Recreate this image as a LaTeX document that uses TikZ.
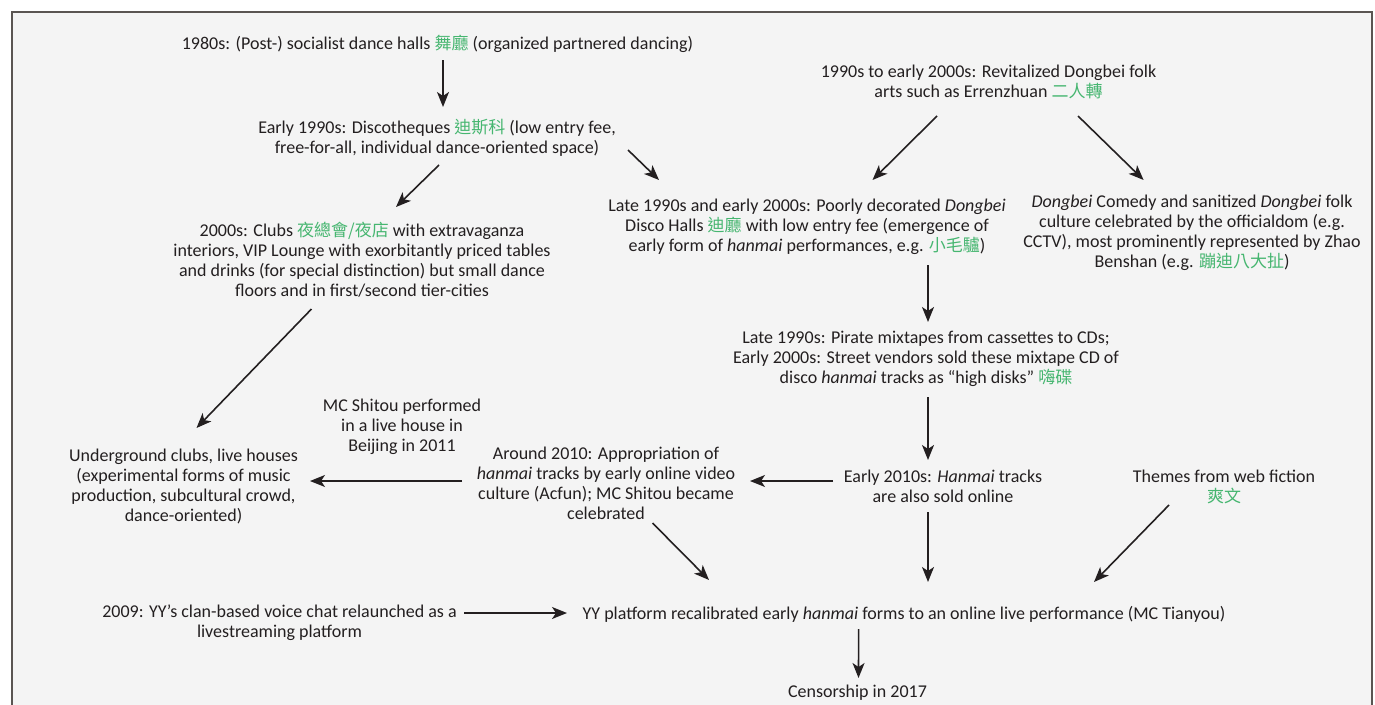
\documentclass[tikz,border=0pt]{standalone}
\usepackage{fontspec}
\setmainfont{Carlito}
\newfontfamily\cjk{Noto Sans CJK TC}
\usetikzlibrary{arrows.meta,calc}
\definecolor{bgc}{RGB}{244,244,244}
\definecolor{framec}{RGB}{90,85,82}
\definecolor{txt}{RGB}{35,31,32}
\definecolor{zhg}{RGB}{70,182,112}
\newcommand{\zh}[1]{{\cjk\color{zhg}\fontsize{17}{20}\selectfont #1}}
\begin{document}
\begin{tikzpicture}[x=1pt,y=-1pt,
  lbl/.style={align=center,text=txt,inner sep=0pt,font=\fontsize{18}{20}\selectfont},
  arr/.style={draw=txt,line width=1.6pt,-{Stealth[length=15pt,width=12pt,inset=4pt]}}]
\useasboundingbox (0,0) rectangle (1375,704);
\fill[white] (0,0) rectangle (1375,704);
\path[fill=bgc] (12,12) rectangle (1372,710);
\draw[framec,line width=2pt] (12,710) -- (12,12) -- (1372,12) -- (1372,710);

\node[lbl] (n1980) at (437.5,44) {1980s: (Post-) socialist dance halls \zh{舞廳} (organized partnered dancing)};
\node[lbl] (n1990) at (437,138) {Early 1990s: Discotheques \zh{迪斯科} (low entry fee,\\free-for-all, individual dance-oriented space)};
\node[lbl] (n2000) at (362,260) {2000s: Clubs \zh{夜總會/夜店} with extravaganza\\interiors, VIP Lounge with exorbitantly priced tables\\and drinks (for special distinction) but small dance\\floors and in first/second tier-cities};
\node[lbl] (nfolk) at (988.5,82) {1990s to early 2000s: Revitalized Dongbei folk\\arts such as Errenzhuan \zh{二人轉}};
\node[lbl] (ndisco) at (807,227) {Late 1990s and early 2000s: Poorly decorated \textit{Dongbei}\\Disco Halls \zh{迪廳} with low entry fee (emergence of\\early form of \textit{hanmai} performances, e.g. \zh{小毛驢})};
\node[lbl] (ncomedy) at (1192,233) {\textit{Dongbei} Comedy and sanitized \textit{Dongbei} folk\\culture celebrated by the officialdom (e.g.\\CCTV), most prominently represented by Zhao\\Benshan (e.g. \zh{蹦迪八大扯})};
\node[lbl] (npirate) at (926,359) {Late 1990s: Pirate mixtapes from cassettes to CDs;\\Early 2000s: Street vendors sold these mixtape CD of\\disco \textit{hanmai} tracks as “high disks” \zh{嗨碟}};
\node[lbl] (nunder) at (183.5,486) {Underground clubs, live houses\\(experimental forms of music\\production, subcultural crowd,\\dance-oriented)};
\node[lbl] (nshitou) at (402,427) {MC Shitou performed\\in a live house in\\Beijing in 2011};
\node[lbl] (naround) at (606,483) {Around 2010: Appropriation of\\\textit{hanmai} tracks by early online video\\culture (Acfun); MC Shitou became\\celebrated};
\node[lbl] (nearly) at (943,486.5) {Early 2010s: \textit{Hanmai} tracks\\are also sold online};
\node[lbl] (nthemes) at (1224,486.5) {Themes from web fiction\\\zh{爽文}};
\node[lbl] (nyy2009) at (279.5,623) {2009: YY’s clan-based voice chat relaunched as a\\livestreaming platform};
\node[lbl] (nyy) at (904,614) {YY platform recalibrated early \textit{hanmai} forms to an online live performance (MC Tianyou)};
\node[lbl] (ncensor) at (857.5,693) {Censorship in 2017};

\draw[arr] ($(n1980)+(5.5,16)$) -- ($(n1990)+(6,-31)$);
\draw[arr] ($(n1990)+(2,27)$) -- ($(n2000)+(34,-53)$);
\draw[arr] ($(n1990)+(191,12)$) -- ($(ndisco)+(-148,-47)$);
\draw[arr] ($(nfolk)+(-51.5,34)$) -- ($(ndisco)+(65.5,-47)$);
\draw[arr] ($(nfolk)+(89.5,34)$) -- ($(ncomedy)+(-48.4,-53)$);
\draw[arr] ($(ndisco)+(121,38)$) -- ($(npirate)+(2,-37)$);
\draw[arr] ($(n2000)+(-50.5,49)$) -- ($(nunder)+(13,-58)$);
\draw[arr] ($(npirate)+(2,38)$) -- ($(nearly)+(-15,-26.5)$);
\draw[arr] ($(nearly)+(-110,-5.5)$) -- ($(naround)+(144,-2)$);
\draw[arr] ($(naround)+(-144,-2)$) -- ($(nunder)+(126.5,-5)$);
\draw[arr] ($(naround)+(46.5,40)$) -- ($(nyy)+(-195,-34)$);
\draw[arr] ($(nearly)+(-15,25.5)$) -- ($(nyy)+(24,-32)$);
\draw[arr] ($(nthemes)+(-55,18.5)$) -- ($(nyy)+(190,-32)$);
\draw[arr] ($(nyy2009)+(184.5,-10)$) -- ($(nyy)+(-337,-1)$);
\draw[arr] ($(nyy)+(-45.4,15)$) -- ($(ncensor)+(1,-15)$);
\end{tikzpicture}
\end{document}
